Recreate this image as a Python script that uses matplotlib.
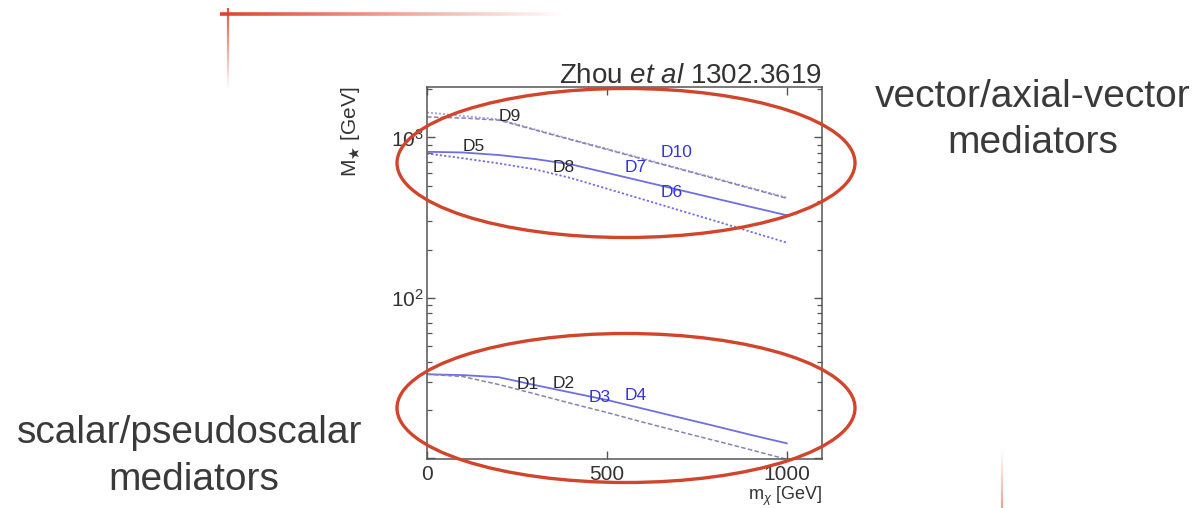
import numpy as np
import matplotlib
matplotlib.use("Agg")
import matplotlib.pyplot as plt
from matplotlib.patches import Ellipse
from matplotlib.collections import LineCollection
from matplotlib.ticker import FixedLocator, FixedFormatter

plt.rcParams["font.family"] = ["Liberation Sans", "DejaVu Sans"]
plt.rcParams["mathtext.fontset"] = "custom"
plt.rcParams["mathtext.rm"] = "Liberation Sans"
plt.rcParams["mathtext.it"] = "Liberation Sans:italic"

# ---- data: suppression scale M* [GeV] vs dark matter mass m_chi [GeV] ----
m_chi = [0, 100, 200, 300, 400, 500, 600, 700, 800, 900, 1000]

# vector / axial-vector operators
d9_vals = [1340, 1320, 1280, 1112, 966, 841, 731, 636, 553, 480, 417]
d10_vals = [1430, 1360, 1295, 1122, 975, 849, 738, 642, 558, 485, 421]
d5_vals = [813, 805, 776, 733, 679, 601, 532, 471, 417, 369, 327]
d8_vals = [794, 741, 688, 632, 558, 479, 411, 352, 302, 258, 221]

# scalar / pseudoscalar operators
d1_vals = [33.4, 33.0, 32.0, 28.6, 25.7, 23.1, 20.4, 18.0, 15.9, 14.0, 12.4]
d2_vals = [33.4, 32.3, 28.8, 25.2, 22.0, 19.3, 16.8, 14.7, 12.9, 11.3, 9.85]

# operator labels: (text, m_chi, M*, colour)
label_names = ["D9", "D5", "D8", "D7", "D10", "D6", "D1", "D2", "D3", "D4"]
label_x = [231, 131, 381, 581, 694, 681, 281, 381, 481, 581]
label_y = [1343, 873, 650, 650, 802, 452, 29.0, 29.2, 23.9, 24.7]
label_blue = [False, False, False, True, True, True, False, False, True, True]

# labelled decades on the M* axis
y_major = [10, 100, 1000]
y_major_labels = ["", r"10$^{2}$", r"10$^{3}$"]

W, H = 1197, 508
fig = plt.figure(figsize=(W / 100, H / 100), dpi=100)
fig.patch.set_facecolor("white")

ax = fig.add_axes([427 / W, 1 - 459 / H, (822 - 427) / W, (459 - 87) / H])
ax.set_yscale("log")
ax.set_xlim(0, 1098)
ax.set_ylim(9.9, 2060)

blue = "#6f6fe0"
grey_blue = "#8585ad"
ax.plot(m_chi, d10_vals, color="#9a9ae8", lw=1.2, ls=(0, (1.2, 1.2)))
ax.plot(m_chi, d9_vals, color=grey_blue, lw=1.1, ls=(0, (3, 1.5)))
ax.plot(m_chi, d5_vals, color=blue, lw=1.3)
ax.plot(m_chi, d8_vals, color=blue, lw=1.3, ls=(0, (1.2, 1.2)))
ax.plot(m_chi, d1_vals, color=blue, lw=1.3)
ax.plot(m_chi, d2_vals, color=grey_blue, lw=1.1, ls=(0, (3, 1.5)))

for name, lx, ly, isblue in zip(label_names, label_x, label_y, label_blue):
    ax.text(lx, ly, name, fontsize=12.5, ha="center", va="center",
            color="#3535dd" if isblue else "#2a2a2a")

frame_col = "#555555"
for sp in ax.spines.values():
    sp.set_color(frame_col)
    sp.set_linewidth(1.1)
ax.set_xticks([0, 500, 1000])
ax.set_xticklabels(["0", "500", "1000"])
ax.yaxis.set_major_locator(FixedLocator(y_major))
ax.yaxis.set_major_formatter(FixedFormatter(y_major_labels))
ax.tick_params(which="both", direction="in", top=True, right=True,
               colors=frame_col, labelcolor="#333333", labelsize=15)
ax.tick_params(which="major", length=6, width=1)
ax.tick_params(which="minor", length=3.5, width=0.9)
ax.tick_params(axis="x", which="minor", bottom=False, top=False)
ax.tick_params(axis="x", pad=4)
ax.tick_params(axis="y", pad=2)

ax.set_title(r"Zhou $et$ $al$ 1302.3619", loc="right", fontsize=20,
             color="#333333", pad=3)
ax.set_ylabel(r"M$_{\bigstar}$ [GeV]", fontsize=15, color="#333333")
ax.yaxis.set_label_coords(-0.165, 1.0, transform=ax.transAxes)
ax.yaxis.label.set_ha("right")
ax.set_xlabel(r"m$_{\chi}$ [GeV]", fontsize=13, color="#333333")
ax.xaxis.set_label_coords(1.0, -0.07)
ax.xaxis.label.set_ha("right")

# ---- overlay in pixel coordinates: highlight ellipses, captions, rules ----
ov = fig.add_axes([0, 0, 1, 1], zorder=5)
ov.set_xlim(0, W)
ov.set_ylim(H, 0)
ov.axis("off")
ov.patch.set_alpha(0)

ring = "#d0452b"
for cy in (163, 408):
    ov.add_patch(Ellipse((626, cy), 458, 149, fill=False, ec=ring, lw=2.4))

cap_kw = dict(fontsize=28, color="#3a3a3a", ha="center", va="center")
ov.text(1033, 97, "vector/axial-vector", **cap_kw)
ov.text(1033, 143, "mediators", **cap_kw)
ov.text(190, 433, "scalar/pseudoscalar", **cap_kw)
ov.text(194, 480, "mediators", **cap_kw)


def faded_rule(x0, y0, x1, y1, a0, a1, lw):
    n = 120
    xs = np.linspace(x0, x1, n + 1)
    ys = np.linspace(y0, y1, n + 1)
    segs = [[(xs[i], ys[i]), (xs[i + 1], ys[i + 1])] for i in range(n)]
    alphas = np.linspace(a0, a1, n)
    cols = [(0.85, 0.27, 0.17, a) for a in alphas]
    ov.add_collection(LineCollection(segs, colors=cols, linewidths=lw,
                                     capstyle="butt"))


faded_rule(220, 14, 565, 14, 1.0, 0.0, 2.6)
faded_rule(228, 8, 228, 90, 0.9, 0.0, 1.6)
faded_rule(1002, 508, 1002, 450, 0.5, 0.0, 1.6)

fig.savefig("out.png", dpi=100)
